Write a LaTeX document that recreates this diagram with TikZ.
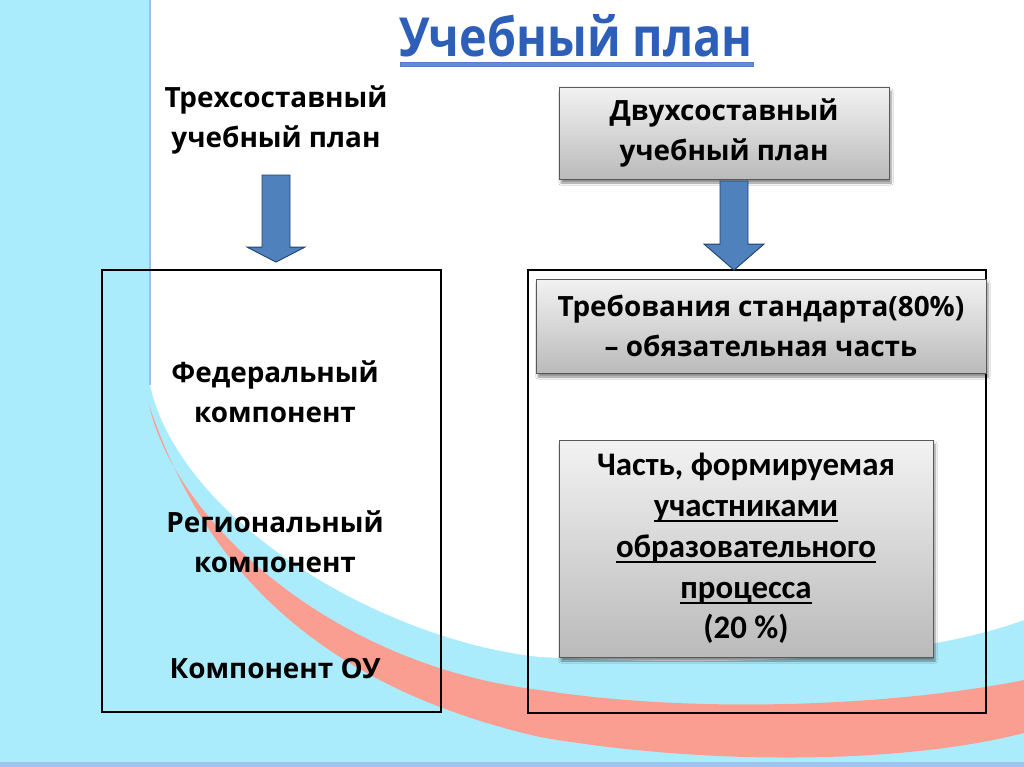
\documentclass[tikz,border=0pt]{standalone}
\usepackage{fontspec}
\usepackage{graphicx}
\usetikzlibrary{shadows.blur,calc}
\setmainfont{Open Sans}
\newfontfamily\fTah{Open Sans}
\newfontfamily\fCarl{Carlito}
\definecolor{bgblue}{RGB}{170,236,252}
\definecolor{bgpink}{RGB}{250,158,145}
\definecolor{edgeblue}{RGB}{150,195,235}
\definecolor{botblue}{RGB}{160,195,240}
\definecolor{arrowfill}{RGB}{79,129,189}
\definecolor{arrowline}{RGB}{35,65,110}
\definecolor{titleblue}{RGB}{45,95,185}
\definecolor{ulblue}{RGB}{95,140,215}
\newcommand\myul[1]{\leavevmode\setbox0=\hbox{#1}\rlap{\rule[-6bp]{\wd0}{2.2bp}}\box0}
\tikzset{
  outerbox/.style={draw=black, line width=1.8bp, inner sep=0pt},
  graybox/.style={draw=black!65, line width=0.8bp, top color=black!5, bottom color=black!27,
    blur shadow={shadow xshift=2bp, shadow yshift=-4bp, shadow opacity=45, shadow blur steps=6}, inner sep=0pt},
  tahtext/.style={font=\fTah\bfseries\fontsize{28}{40}\selectfont, align=center, inner sep=0pt},
  carltext/.style={font=\fCarl\bfseries\fontsize{33}{41}\selectfont, align=center, inner sep=0pt},
  blockarrow/.style={fill=arrowfill, draw=arrowline, line width=0.9bp, line join=miter},
}
\begin{document}
\begin{tikzpicture}[x=1bp,y=-1bp]
\useasboundingbox (0,0) rectangle (1024,767);
% background
\fill[bgblue] (0,0) rectangle (1024,767);
\fill[white] (150,0) -- (1024,0) -- (1024,620) .. controls (900,665) and (700,665) .. (540,657)
  .. controls (380,640) and (180,520) .. (150,385) -- cycle;
\fill[bgpink] (149,405) .. controls (175,520) and (330,665) .. (540,690)
  .. controls (700,715) and (900,705) .. (1024,680) -- (1024,733)
  .. controls (900,765) and (700,765) .. (540,737)
  .. controls (290,680) and (195,540) .. (149,405) -- cycle;
\draw[edgeblue, line width=2bp] (150,0) -- (150,385);
\fill[botblue] (0,762) rectangle (1024,767);

% title
\node[anchor=base, inner sep=0pt, text=titleblue, font=\fTah\bfseries\fontsize{47}{50}\selectfont] (title) at (576,57) {\scalebox{1}[1.15]{Учебный план}};
\fill[ulblue, draw=titleblue!80, line width=0.5bp] (400,62) rectangle (753,66);

% left column
\node[tahtext] (hdrL) at (276,120) {Трехсоставный\\учебный план};
\node[outerbox, minimum width=339bp, minimum height=442bp] (boxL) at (271.5,491) {};
\node[tahtext] (fed) at (275,392) {Федеральный\\компонент};
\node[tahtext] (reg) at (275,542) {Региональный\\компонент};
\node[tahtext] (ou) at (275,669) {Компонент ОУ};

% right column
\node[graybox, minimum width=330bp, minimum height=92bp] (hdrR) at (724,133) {};
\node[tahtext] (hdrRt) at (hdrR.center) {Двухсоставный\\учебный план};
\node[outerbox, minimum width=458bp, minimum height=443bp] (boxR) at (757,491.5) {};
\node[graybox, minimum width=450bp, minimum height=94bp] (treb) at (761,326) {};
\node[tahtext] (trebt) at (treb.center) {Требования стандарта(80\%)\\– обязательная часть};
\node[graybox, minimum width=374bp, minimum height=217bp] (part) at (746,548.5) {};
\node[carltext] (partt) at (part.center) {Часть, формируемая\\\myul{участниками}\\\myul{образовательного}\\\myul{процесса}\\(20 \%)};

% block arrows
\coordinate (aLs) at (hdrL.south |- 0,175);
\coordinate (aLe) at (hdrL.south |- boxL.north);
\draw[blockarrow] ($(aLs)+(-14,0)$) -- ($(aLs)+(14,0)$) -- ($(aLe)+(14,-22)$) -- ($(aLe)+(29,-22)$)
  -- ($(aLe)+(0,-7)$) -- ($(aLe)+(-29,-22)$) -- ($(aLe)+(-14,-22)$) -- cycle;
\coordinate (aRs) at (734,181);
\coordinate (aRe) at (aRs |- boxR.north);
\draw[blockarrow] ($(aRs)+(-14,0)$) -- ($(aRs)+(14,0)$) -- ($(aRe)+(14,-25)$) -- ($(aRe)+(30,-25)$)
  -- ($(aRe)+(0,1)$) -- ($(aRe)+(-30,-25)$) -- ($(aRe)+(-14,-25)$) -- cycle;
\end{tikzpicture}
\end{document}
